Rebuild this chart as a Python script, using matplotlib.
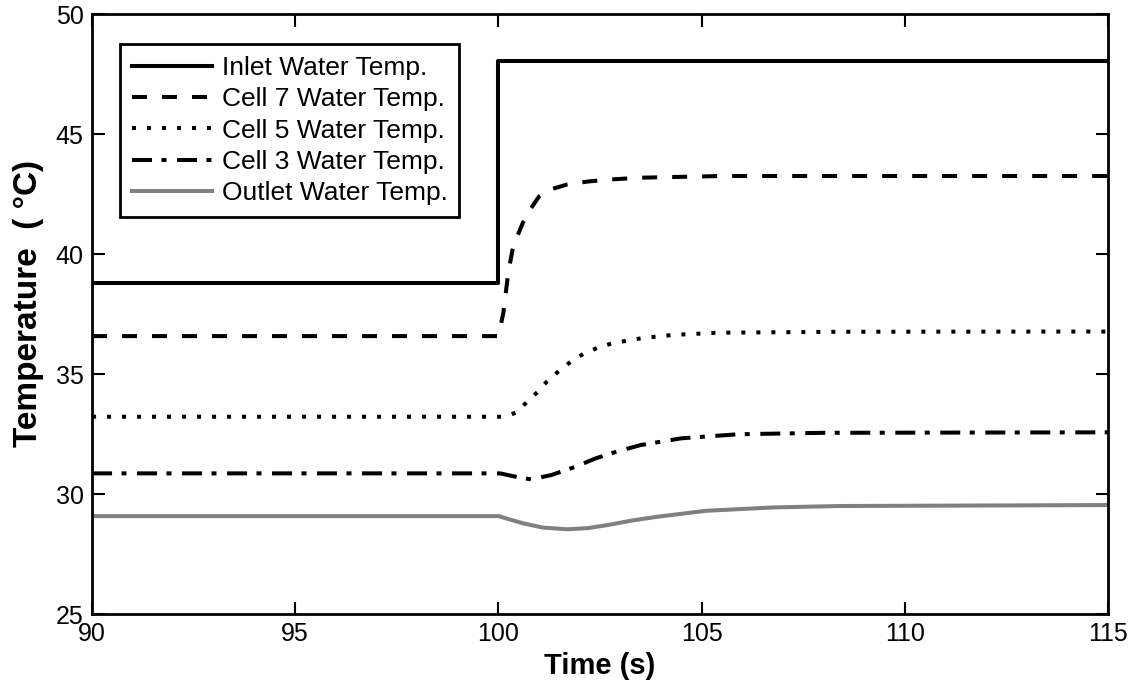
import matplotlib
matplotlib.use('Agg')
import matplotlib.pyplot as plt

plt.rcParams['font.family'] = ['Liberation Sans', 'DejaVu Sans']
plt.rcParams['lines.scale_dashes'] = False

# 进口水温（阶跃）
t_inlet = [90, 100, 100, 115]
T_inlet = [38.8, 38.8, 48.05, 48.05]

# 第7单元
t_c7 = [90, 100, 100.12, 100.24, 100.36, 100.6, 100.8, 101.0, 101.3, 101.7, 102.2, 102.7, 103.5, 105.5, 115]
T_c7 = [36.58, 36.58, 37.54, 39.2, 40.3, 41.3, 41.9, 42.4, 42.7, 42.9, 43.02, 43.1, 43.18, 43.25, 43.25]

# 第5单元
t_c5 = [90, 100.1, 100.44, 100.7, 100.97, 101.2, 101.5, 101.8, 102.1, 102.45, 102.8, 103.55, 104.3, 105.4, 108.4, 115]
T_c5 = [33.22, 33.22, 33.39, 33.83, 34.26, 34.7, 35.14, 35.54, 35.85, 36.1, 36.28, 36.5, 36.63, 36.72, 36.76, 36.77]

# 第3单元
t_c3 = [90, 100.04, 100.45, 100.8, 101.3, 101.9, 102.4, 102.9, 103.5, 104.5, 105.9, 108, 115]
T_c3 = [30.86, 30.86, 30.71, 30.61, 30.79, 31.14, 31.49, 31.76, 32.04, 32.32, 32.49, 32.55, 32.57]

# 出口水温
t_out = [90, 100, 100.6, 101.1, 101.7, 102.2, 102.7, 103.3, 103.9, 105.1, 106.75, 108.4, 115]
T_out = [29.08, 29.08, 28.78, 28.6, 28.53, 28.58, 28.71, 28.9, 29.05, 29.3, 29.44, 29.5, 29.54]

labels = ['Inlet Water Temp.', 'Cell 7 Water Temp.', 'Cell 5 Water Temp.',
          'Cell 3 Water Temp.', 'Outlet Water Temp.']
x_ticks = [90, 95, 100, 105, 110, 115]
y_ticks = [25, 30, 35, 40, 45, 50]

fig = plt.figure(figsize=(11.39, 6.83), dpi=100)
ax = fig.add_axes([0.0808, 0.101, 0.892, 0.8785])

lw = 2.9
ax.plot(t_inlet, T_inlet, color='black', linewidth=lw, label=labels[0])
ax.plot(t_c7, T_c7, color='black', linewidth=lw, linestyle=(0, (10.8, 10.8)), label=labels[1])
ax.plot(t_c5, T_c5, color='black', linewidth=lw, linestyle=(0, (2.9, 7.9)), label=labels[2])
ax.plot(t_c3, T_c3, color='black', linewidth=lw, linestyle=(0, (14.4, 6.8, 3.6, 7.6)), label=labels[3])
ax.plot(t_out, T_out, color='#808080', linewidth=lw, label=labels[4])

ax.set_xlim(90, 115)
ax.set_ylim(25, 50)
ax.set_xticks(x_ticks)
ax.set_yticks(y_ticks)
ax.tick_params(direction='in', length=9, width=1.5, labelsize=18,
               top=True, right=True, pad=6)
for s in ax.spines.values():
    s.set_linewidth(2.0)

ax.set_xlabel('Time (s)', fontsize=21, fontweight='bold', labelpad=4)
ax.set_ylabel('Temperature  ( °C)', fontsize=24, fontweight='bold')
ax.yaxis.set_label_coords(-0.047, 0.518)

leg = ax.legend(loc='upper left', bbox_to_anchor=(0.0276, 0.95), borderaxespad=0,
                fontsize=19, handlelength=3.05, handletextpad=0.35,
                labelspacing=0.28, borderpad=0.45, fancybox=False, framealpha=1)
leg.get_frame().set_edgecolor('black')
leg.get_frame().set_linewidth(2.0)

fig.savefig('out.png', dpi=100)
